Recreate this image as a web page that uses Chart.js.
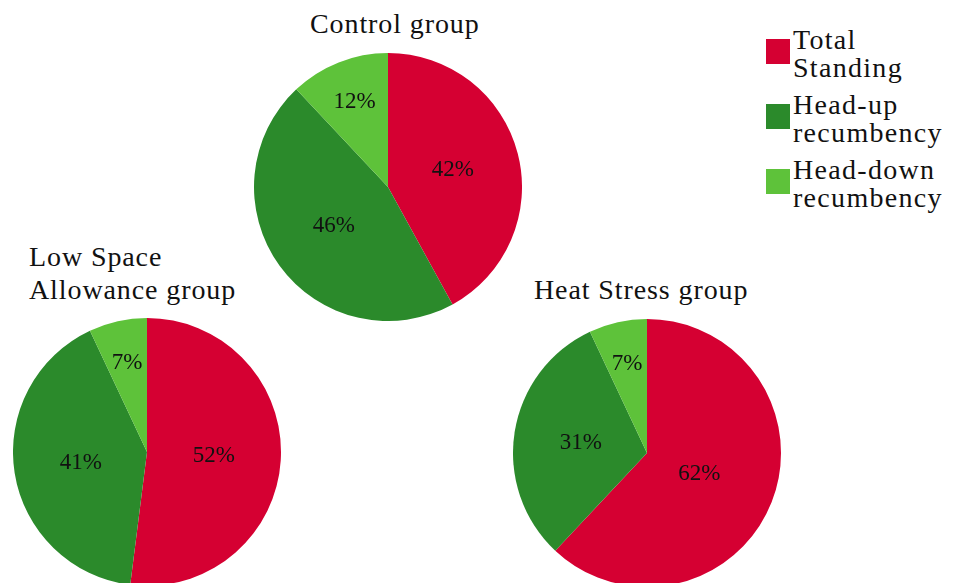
<!DOCTYPE html>
<html>
<head>
<meta charset="utf-8">
<script src="https://cdn.jsdelivr.net/npm/chart.js@4"></script>
<style>
  html, body { margin: 0; padding: 0; background: #fff; overflow: hidden; }
  body { width: 955px; height: 583px; position: relative; font-family: "Liberation Serif", serif; color: #111; }
  .pie { position: absolute; width: 268px; height: 268px; }
  .title { position: absolute; font-size: 28px; line-height: 33px; letter-spacing: 0.9px; white-space: nowrap; }
  #legend { position: absolute; left: 766px; top: 26px; font-size: 28px; line-height: 28px; letter-spacing: 1.3px; }
  .item { position: relative; padding-left: 27px; margin-bottom: 9px; }
  .swatch { position: absolute; left: 0; top: 13px; width: 24px; height: 25px; }
</style>
</head>
<body>
<div class="title" style="left:310px; top:7px;">Control group</div>
<div class="title" style="left:29px; top:240px;">Low Space<br>Allowance group</div>
<div class="title" style="left:534px; top:273px;">Heat Stress group</div>

<div id="legend"></div>

<div class="pie" style="left:254px; top:53px;"><canvas id="control" width="268" height="268"></canvas></div>
<div class="pie" style="left:13px; top:318px;"><canvas id="lowSpace" width="268" height="268"></canvas></div>
<div class="pie" style="left:513px; top:319px;"><canvas id="heatStress" width="268" height="268"></canvas></div>

<script>
const categories = ["Total Standing", "Head-up recumbency", "Head-down recumbency"];
const legendLines = [["Total", "Standing"], ["Head-up", "recumbency"], ["Head-down", "recumbency"]];
const colors = ["#d50032", "#2b8a2b", "#5ec23a"];

const controlValues = [42, 46, 12];
const lowSpaceValues = [52, 41, 7];
const heatStressValues = [62, 31, 7];

// percentage text inside each slice; thin slices get pushed toward the rim,
// very wide ones pulled in a little
const sliceLabels = {
  id: "sliceLabels",
  afterDatasetsDraw(chart) {
    const ctx = chart.ctx;
    const meta = chart.getDatasetMeta(0);
    const values = chart.data.datasets[0].data;
    ctx.save();
    ctx.font = "23px 'Liberation Serif', serif";
    ctx.fillStyle = "#111";
    ctx.textAlign = "center";
    ctx.textBaseline = "middle";
    meta.data.forEach((arc, i) => {
      const p = arc.getProps(["x", "y", "startAngle", "endAngle", "outerRadius"], true);
      const mid = (p.startAngle + p.endAngle) / 2;
      const f = values[i] < 15 ? 0.68 : values[i] > 55 ? 0.42 : 0.5;
      ctx.fillText(values[i] + "%", p.x + Math.cos(mid) * p.outerRadius * f, p.y + Math.sin(mid) * p.outerRadius * f);
    });
    ctx.restore();
  }
};

const makePie = (id, values) => new Chart(document.getElementById(id), {
  type: "pie",
  data: {
    labels: categories,
    datasets: [{
      data: values,
      backgroundColor: colors,
      borderWidth: 0,
      hoverOffset: 0,
      offset: 0,
    }],
  },
  options: {
    responsive: false,
    animation: false,
    layout: { padding: 0 },
    plugins: {
      legend: { display: false },
      tooltip: { enabled: false },
    },
  },
  plugins: [sliceLabels],
});

makePie("control", controlValues);
makePie("lowSpace", lowSpaceValues);
makePie("heatStress", heatStressValues);

const legend = document.getElementById("legend");
legendLines.forEach((lines, i) => {
  const item = document.createElement("div");
  item.className = "item";
  item.innerHTML = `<span class="swatch" style="background:${colors[i]}"></span>${lines.join("<br>")}`;
  legend.appendChild(item);
});
</script>
</body>
</html>
